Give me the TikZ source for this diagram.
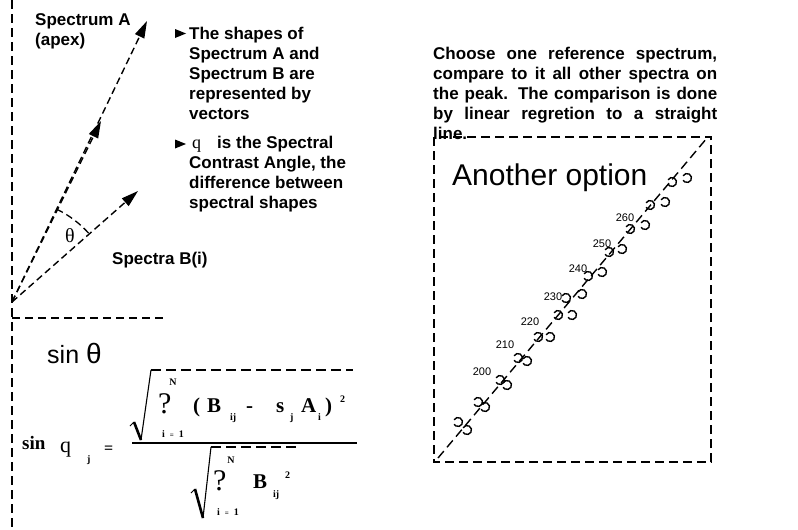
\documentclass[tikz,border=0pt]{standalone}
\usepackage{fontspec}
\setmainfont{Liberation Sans}
\newfontfamily\seriffam{Liberation Serif}
\usetikzlibrary{arrows.meta}
\tikzset{
  bold/.style={inner sep=0pt, anchor=base west, font=\fontsize{17}{19}\selectfont\bfseries},
  vec/.style={line width=1.4pt, dash pattern=on 7pt off 4pt, -{Triangle[length=17pt,width=10pt]}},
  frame/.style={line width=1.8pt, dash pattern=on 9pt off 5pt},
  fml/.style={inner sep=0pt, anchor=base west, font=\seriffam\bfseries\fontsize{21}{21}\selectfont},
  fsub/.style={inner sep=0pt, anchor=base west, font=\seriffam\bfseries\fontsize{10}{10}\selectfont},
  fsig/.style={inner sep=0pt, anchor=base west, font=\seriffam\fontsize{30}{30}\selectfont},
  pt/.style={line width=1.4pt},
  num/.style={inner sep=0pt, font=\fontsize{11}{11}\selectfont},
}
\begin{document}
\begin{tikzpicture}[x=1pt,y=-1pt]
\useasboundingbox (0,0) rectangle (798,530);
\fill[white] (0,0) rectangle (798,530);

% left frame lines
\coordinate (ltop) at (12,0);
\coordinate (lbot) at (12,530);
\coordinate (hl) at (12,318);
\coordinate (hr) at (163,318);
\draw[frame] (ltop) -- (lbot);
\draw[line width=1.5pt, dash pattern=on 8pt off 5pt] (hl) -- (hr);

% vectors
\coordinate (O) at (12,302);
\coordinate (Atip) at (147,21);
\coordinate (Ain) at (101,121);
\coordinate (Btip) at (138,191);
\draw[vec] (O) -- (Atip);
\draw[vec] (O) -- (Ain);
\draw[vec] (O) -- (Btip);
\draw[line width=1.3pt, dash pattern=on 7pt off 4pt] (O) ++(-64.3:103) arc[start angle=-64.3, end angle=-41.1, radius=103];
\node[inner sep=0pt, font=\seriffam\fontsize{20}{20}\selectfont] (theta) at (70,236) {θ};

\node[bold] (specA) at (35,25) {Spectrum A};
\node[bold] (apex) at (35,45) {(apex)};
\node[bold] (specB) at (112,264) {Spectra B(i)};

% bullets
\fill (175,29) -- (186,33.5) -- (175,38) -- cycle;
\node[bold] (b1) at (189,39) {The shapes of};
\node[bold] (b2) at (189,59) {Spectrum A and};
\node[bold] (b3) at (189,79) {Spectrum B are};
\node[bold] (b4) at (189,99) {represented by};
\node[bold] (b5) at (189,119) {vectors};
\fill (175,139.5) -- (186,144) -- (175,148.5) -- cycle;
\node[inner sep=0pt, anchor=base west, font=\seriffam\fontsize{18}{18}\selectfont] (q) at (192,148) {q};
\node[bold] (c1) at (217,148) {is the Spectral};
\node[bold] (c2) at (189,168) {Contrast Angle, the};
\node[bold] (c3) at (189,188) {difference between};
\node[bold] (c4) at (189,208) {spectral shapes};

% right text
\node[inner sep=0pt, anchor=base west, font=\fontsize{17}{20}\selectfont\bfseries] (rt) at (433,59.5)
 {\parbox[t]{284pt}{\fontsize{17}{20}\selectfont\bfseries\hyphenpenalty=10000
 Choose one reference spectrum,\linebreak compare to it all other spectra on\linebreak the peak. The comparison is done\linebreak by linear regretion to a straight\linebreak line.}};

% box
\coordinate (bx1) at (434,137);
\coordinate (bx2) at (711,462);
\draw[frame] (bx1) rectangle (bx2);
\coordinate (d1) at (438,458);
\coordinate (d2) at (707,138);
\draw[line width=1.4pt, dash pattern=on 9pt off 5pt] (d1) -- (d2);
\node[inner sep=0pt, anchor=base west, font=\fontsize{30}{30}\selectfont] (another) at (452,185) {Another option};

\foreach \x/\y in {458/422,467/430,478/402,485/407,500/380,507/385,518/358,527/361,538/337,550/337,558/315,572/315,566/298,582/294,588/276,602/272,609/252,622/249,630/229,645/225,650/205,665/202,672/182,687/178}
  \draw[pt] (\x,\y) ++(-150:4.5) arc[start angle=-150, end angle=150, radius=4.5];

\node[num] (l200) at (482,372) {200};
\node[num] (l210) at (505,345) {210};
\node[num] (l220) at (530,322) {220};
\node[num] (l230) at (553,297) {230};
\node[num] (l240) at (578,269) {240};
\node[num] (l250) at (602,244) {250};
\node[num] (l260) at (625,218) {260};

% sin theta
\node[inner sep=0pt, anchor=base west, font=\fontsize{25}{25}\selectfont] (sinth) at (47,363) {sin \fontsize{28}{28}\selectfont θ};

% formula
\node[inner sep=0pt, anchor=base west, font=\seriffam\bfseries\fontsize{19}{19}\selectfont] (sin) at (22,449) {sin};
\node[inner sep=0pt, anchor=base west, font=\seriffam\fontsize{22}{22}\selectfont] (qj) at (60,452) {q};
\node[fsub] (jj) at (87,462) {j};
\node[inner sep=0pt, anchor=base west, font=\seriffam\bfseries\fontsize{16}{16}\selectfont] (eq) at (104,453) {=};
\coordinate (bar1) at (132,443);
\coordinate (bar2) at (357,443);
\draw[line width=1.8pt] (bar1) -- (bar2);
% numerator radical
\coordinate (r1a) at (130,426);
\coordinate (r1b) at (134,422);
\coordinate (r1c) at (141,440);
\coordinate (r1d) at (151,370);
\coordinate (r1e) at (353,370);
\draw[line width=1pt] (r1a) -- (r1b);
\draw[line width=2.6pt] (r1b) -- (r1c);
\draw[line width=1.1pt] (r1c) -- (r1d);
\draw[line width=1.5pt, dash pattern=on 10pt off 5pt] (r1d) -- (r1e);
\node[fsig] (sig1) at (158,413) {?};
\node[fsub, anchor=center] (N1) at (173,382) {N};
\node[fsub] (i1) at (162,437) {i\hspace{5pt}{\fontsize{7}{7}\selectfont=}\hspace{5pt}1};
\node[fml] (lp) at (193,412) {(};
\node[fml] (B1) at (207,412) {B};
\node[fsub] (ij1) at (230,420) {ij};
\node[fml] (minus) at (246,412) {-};
\node[fml] (s1) at (276,412) {s};
\node[fsub] (j1) at (290,420) {j};
\node[fml] (A1) at (301,412) {A};
\node[fsub] (i2) at (318,420) {i};
\node[fml] (rp) at (325,412) {)};
\node[fsub] (sq1) at (340,402) {2};
% denominator radical
\coordinate (r2a) at (191,493);
\coordinate (r2b) at (195,489);
\coordinate (r2c) at (203,518);
\coordinate (r2d) at (211,447);
\coordinate (r2e) at (298,447);
\draw[line width=1pt] (r2a) -- (r2b);
\draw[line width=2.6pt] (r2b) -- (r2c);
\draw[line width=1.1pt] (r2c) -- (r2d);
\draw[line width=1.5pt, dash pattern=on 10pt off 5pt] (r2d) -- (r2e);
\node[fsig] (sig2) at (213,490) {?};
\node[fsub, anchor=center] (N2) at (231,460) {N};
\node[fsub] (i3) at (217,515) {i\hspace{5pt}{\fontsize{7}{7}\selectfont=}\hspace{5pt}1};
\node[fml] (B2) at (253,488) {B};
\node[fsub] (ij2) at (273,497) {ij};
\node[fsub] (sq2) at (285,478) {2};
\end{tikzpicture}
\end{document}
